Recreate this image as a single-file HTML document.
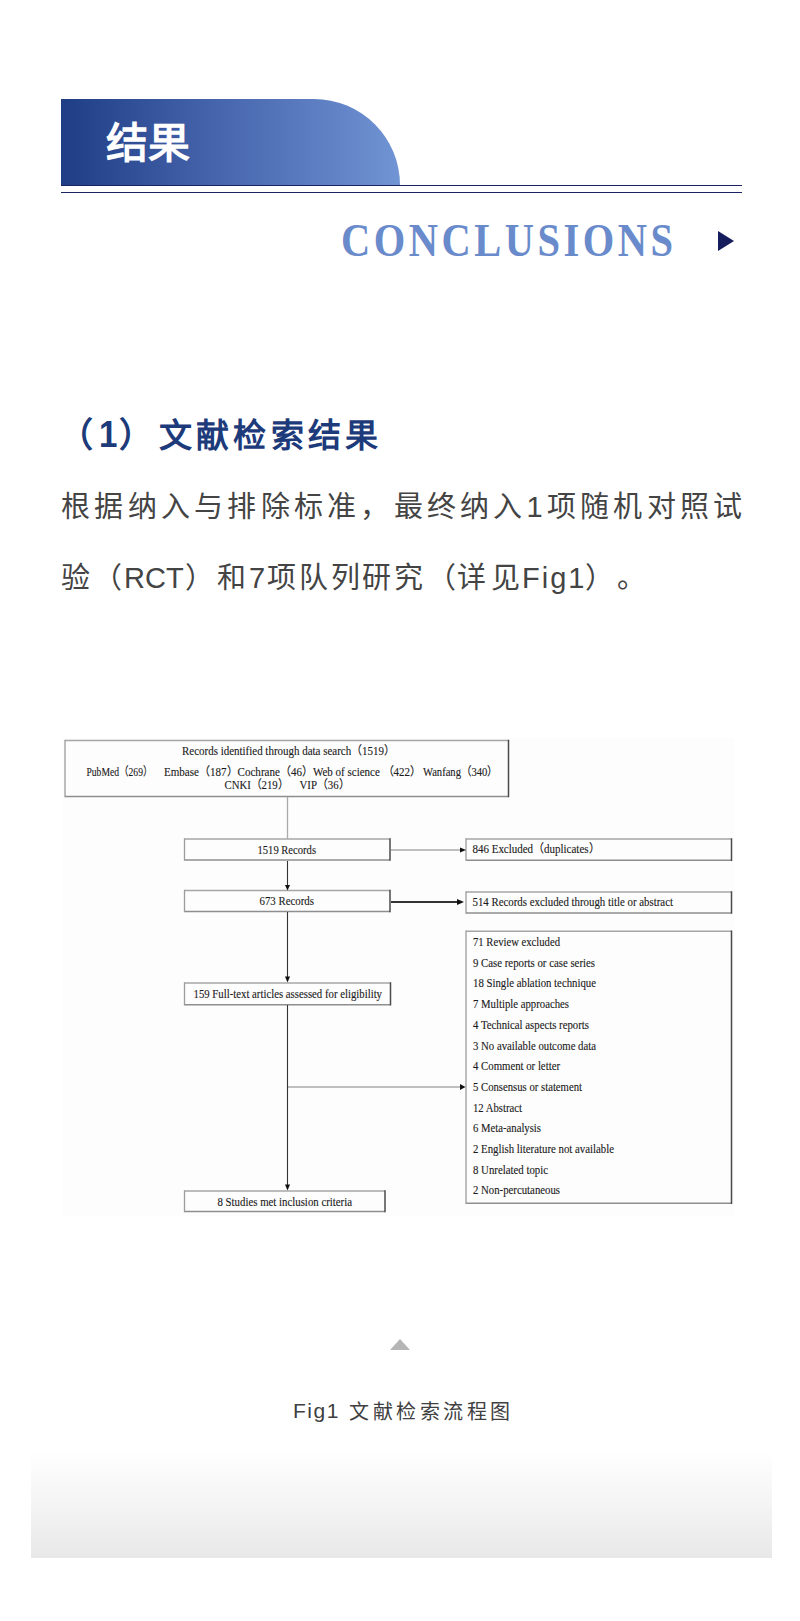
<!DOCTYPE html>
<html lang="zh-CN"><head><meta charset="utf-8">
<style>
html,body{margin:0;padding:0;background:#fff;}
body{width:800px;height:1621px;position:relative;overflow:hidden;font-family:"Liberation Sans",sans-serif;}
.abs{position:absolute;white-space:nowrap;}
#hbox{left:61px;top:99px;width:339px;height:86px;border-top-right-radius:86px;background:linear-gradient(90deg,#1e3d85 0%,#4b6ab1 52%,#7094d4 100%);}
#htitle{left:106px;top:116px;color:#fff;font-family:"Liberation Serif",serif;font-weight:bold;font-size:42px;line-height:56px;}
#line1{left:61px;top:185px;width:681px;height:1px;background:#1b2363;}
#line2{left:61px;top:192px;width:681px;height:1px;background:#1b2363;}
#concl{left:341px;top:214px;color:#6a8bcb;font-family:"Liberation Serif",serif;font-weight:bold;font-size:46px;line-height:54px;letter-spacing:4px;transform:scaleX(0.88);transform-origin:0 0;}
#tri{left:718px;top:231px;width:0;height:0;border-left:16px solid #161d5c;border-top:10px solid transparent;border-bottom:10px solid transparent;}
.h2{top:412px;color:#1d3a7a;font-weight:bold;font-size:36px;line-height:48px;}
#h2a{left:60px;}
#h2b{left:159px;letter-spacing:4.2px;font-size:33px;top:412px;}
.p{color:#444;font-size:29px;line-height:40px;}
#p1{left:61px;top:487px;letter-spacing:4.25px;}
.l2{top:558px;}
#fig{left:0;top:0;}
#fig text{font-family:"Liberation Serif",serif;font-size:12px;fill:#1a1a1a;stroke:#1a1a1a;stroke-width:0.12px;}
.cap{top:1396px;color:#404040;font-size:21px;line-height:30px;letter-spacing:1.5px;}
#uptri{left:390px;top:1339px;width:0;height:0;border-bottom:11px solid #b5b5b5;border-left:10px solid transparent;border-right:10px solid transparent;}
#grad{left:31px;top:1450px;width:741px;height:108px;background:linear-gradient(180deg,#fff 0%,#f4f4f4 50%,#e8e8e8 100%);}
</style></head>
<body>
<div id="hbox" class="abs"></div>
<div id="htitle" class="abs">结果</div>
<div id="line1" class="abs"></div>
<div id="line2" class="abs"></div>
<div id="concl" class="abs">CONCLUSIONS</div>
<div id="tri" class="abs"></div>
<span class="abs h2" style="left:59px;font-size:34px;top:411px">（</span><span class="abs h2" style="left:99px;font-size:36px;top:411px;transform:scaleX(0.92);transform-origin:0 0">1</span><span class="abs h2" style="left:119px;font-size:34px;top:411px">）</span>
<div id="h2b" class="abs h2">文献检索结果</div>
<div id="p1" class="abs p">根据纳入与排除标准，最终纳入1项随机对照试</div>
<span class="abs p l2" style="left:61px">验</span>
<span class="abs p l2" style="left:93px">（</span>
<span class="abs p l2" style="left:124px">RCT</span>
<span class="abs p l2" style="left:185px">）</span>
<span class="abs p l2" style="left:217px">和</span>
<span class="abs p l2" style="left:249px">7</span>
<span class="abs p l2" style="left:267px;letter-spacing:2.8px">项队列研究</span>
<span class="abs p l2" style="left:427px">（</span>
<span class="abs p l2" style="left:457px;letter-spacing:5px">详见</span>
<span class="abs p l2" style="left:522px;letter-spacing:2px">Fig1</span>
<span class="abs p l2" style="left:585px">）</span>
<span class="abs p l2" style="left:617px">。</span>
<svg id="fig" class="abs" width="800" height="1621" viewBox="0 0 800 1621">
<rect x="62" y="738" width="672" height="478" fill="#fdfdfd"/>
<g fill="none">
<line x1="65" y1="740.5" x2="508.5" y2="740.5" stroke="#a6a6a6" stroke-width="1.5"/>
<line x1="65" y1="796.5" x2="508.5" y2="796.5" stroke="#8e8e8e" stroke-width="1.5"/>
<line x1="65" y1="739.75" x2="65" y2="797.25" stroke="#9c9c9c" stroke-width="1.3"/>
<line x1="508.5" y1="739.75" x2="508.5" y2="797.25" stroke="#4a4a4a" stroke-width="1.5"/>
<line x1="184.5" y1="839" x2="390" y2="839" stroke="#a6a6a6" stroke-width="1.5"/>
<line x1="184.5" y1="860" x2="390" y2="860" stroke="#8e8e8e" stroke-width="1.5"/>
<line x1="184.5" y1="838.25" x2="184.5" y2="860.75" stroke="#9c9c9c" stroke-width="1.3"/>
<line x1="390" y1="838.25" x2="390" y2="860.75" stroke="#4a4a4a" stroke-width="1.5"/>
<line x1="466" y1="839" x2="731.5" y2="839" stroke="#a6a6a6" stroke-width="1.5"/>
<line x1="466" y1="860.3" x2="731.5" y2="860.3" stroke="#8e8e8e" stroke-width="1.5"/>
<line x1="466" y1="838.25" x2="466" y2="861.05" stroke="#9c9c9c" stroke-width="1.3"/>
<line x1="731.5" y1="838.25" x2="731.5" y2="861.05" stroke="#4a4a4a" stroke-width="1.5"/>
<line x1="184.5" y1="890.5" x2="390" y2="890.5" stroke="#a6a6a6" stroke-width="1.5"/>
<line x1="184.5" y1="911.5" x2="390" y2="911.5" stroke="#8e8e8e" stroke-width="1.5"/>
<line x1="184.5" y1="889.75" x2="184.5" y2="912.25" stroke="#9c9c9c" stroke-width="1.3"/>
<line x1="390" y1="889.75" x2="390" y2="912.25" stroke="#4a4a4a" stroke-width="1.5"/>
<line x1="466" y1="892" x2="731.5" y2="892" stroke="#a6a6a6" stroke-width="1.5"/>
<line x1="466" y1="913" x2="731.5" y2="913" stroke="#8e8e8e" stroke-width="1.5"/>
<line x1="466" y1="891.25" x2="466" y2="913.75" stroke="#9c9c9c" stroke-width="1.3"/>
<line x1="731.5" y1="891.25" x2="731.5" y2="913.75" stroke="#4a4a4a" stroke-width="1.5"/>
<line x1="466" y1="931.2" x2="731.5" y2="931.2" stroke="#a6a6a6" stroke-width="1.5"/>
<line x1="466" y1="1203.2" x2="731.5" y2="1203.2" stroke="#8e8e8e" stroke-width="1.5"/>
<line x1="466" y1="930.45" x2="466" y2="1203.95" stroke="#9c9c9c" stroke-width="1.3"/>
<line x1="731.5" y1="930.45" x2="731.5" y2="1203.95" stroke="#4a4a4a" stroke-width="1.5"/>
<line x1="184.5" y1="983" x2="390.5" y2="983" stroke="#a6a6a6" stroke-width="1.5"/>
<line x1="184.5" y1="1004.7" x2="390.5" y2="1004.7" stroke="#8e8e8e" stroke-width="1.5"/>
<line x1="184.5" y1="982.25" x2="184.5" y2="1005.45" stroke="#9c9c9c" stroke-width="1.3"/>
<line x1="390.5" y1="982.25" x2="390.5" y2="1005.45" stroke="#4a4a4a" stroke-width="1.5"/>
<line x1="184.5" y1="1191" x2="385" y2="1191" stroke="#a6a6a6" stroke-width="1.5"/>
<line x1="184.5" y1="1211.5" x2="385" y2="1211.5" stroke="#8e8e8e" stroke-width="1.5"/>
<line x1="184.5" y1="1190.25" x2="184.5" y2="1212.25" stroke="#9c9c9c" stroke-width="1.3"/>
<line x1="385" y1="1190.25" x2="385" y2="1212.25" stroke="#4a4a4a" stroke-width="1.5"/>
</g>
<g stroke="#aaa" stroke-width="1.3" fill="none">
<line x1="287.5" y1="797" x2="287.5" y2="839"/>
<line x1="391" y1="850" x2="460" y2="850"/>
<line x1="288" y1="1087" x2="460" y2="1087"/>
</g>
<g stroke="#333" stroke-width="1.1" fill="none">
<line x1="287.5" y1="861" x2="287.5" y2="886"/>
<line x1="287.5" y1="912" x2="287.5" y2="977"/>
<line x1="287.5" y1="1005" x2="287.5" y2="1185"/>
<line x1="391" y1="902" x2="458" y2="902" stroke-width="2"/>
</g>
<g fill="#111">
<path d="M285,885 L290,885 L287.5,890.5 Z"/>
<path d="M285,976.5 L290,976.5 L287.5,982.5 Z"/>
<path d="M285,1184.5 L290,1184.5 L287.5,1190.5 Z"/>
<path d="M460,847.5 L460,852.5 L466,850 Z"/>
<path d="M457,899 L457,905 L464,902 Z"/>
<path d="M460,1084 L460,1090 L465.5,1087 Z"/>
</g>
<text x="182" y="755" textLength="213" lengthAdjust="spacingAndGlyphs">Records identified through data search（1519）</text>
<text x="86.5" y="776" textLength="66" lengthAdjust="spacingAndGlyphs">PubMed（269）</text><text x="164" y="776" textLength="149" lengthAdjust="spacingAndGlyphs">Embase（187）Cochrane（46）</text><text x="313" y="776" textLength="108" lengthAdjust="spacingAndGlyphs">Web of science （422）</text><text x="423" y="776" textLength="75" lengthAdjust="spacingAndGlyphs">Wanfang（340）</text>
<text x="224.5" y="789" textLength="64" lengthAdjust="spacingAndGlyphs">CNKI（219）</text><text x="299.5" y="789" textLength="50" lengthAdjust="spacingAndGlyphs">VIP（36）</text>
<text x="257.5" y="853.8" textLength="58.5" lengthAdjust="spacingAndGlyphs">1519 Records</text>
<text x="472.5" y="853" textLength="127" lengthAdjust="spacingAndGlyphs">846 Excluded（duplicates）</text>
<text x="259.5" y="905" textLength="54.5" lengthAdjust="spacingAndGlyphs">673 Records</text>
<text x="472.5" y="906" textLength="200.5" lengthAdjust="spacingAndGlyphs">514 Records excluded through title or abstract</text>
<text x="193.5" y="997.5" textLength="188.5" lengthAdjust="spacingAndGlyphs">159 Full-text articles assessed for eligibility</text>
<text x="217.5" y="1205.6" textLength="134.5" lengthAdjust="spacingAndGlyphs">8 Studies met inclusion criteria</text>
<text x="473" y="946.0" textLength="87" lengthAdjust="spacingAndGlyphs">71 Review excluded</text>
<text x="473" y="966.7" textLength="122" lengthAdjust="spacingAndGlyphs">9 Case reports or case series</text>
<text x="473" y="987.4" textLength="123" lengthAdjust="spacingAndGlyphs">18 Single ablation technique</text>
<text x="473" y="1008.1" textLength="96" lengthAdjust="spacingAndGlyphs">7 Multiple approaches</text>
<text x="473" y="1028.8" textLength="116" lengthAdjust="spacingAndGlyphs">4 Technical aspects reports</text>
<text x="473" y="1049.5" textLength="123" lengthAdjust="spacingAndGlyphs">3 No available outcome data</text>
<text x="473" y="1070.2" textLength="87" lengthAdjust="spacingAndGlyphs">4 Comment or letter</text>
<text x="473" y="1090.9" textLength="109" lengthAdjust="spacingAndGlyphs">5 Consensus or statement</text>
<text x="473" y="1111.6" textLength="49" lengthAdjust="spacingAndGlyphs">12 Abstract</text>
<text x="473" y="1132.3" textLength="68" lengthAdjust="spacingAndGlyphs">6 Meta-analysis</text>
<text x="473" y="1153.0" textLength="141" lengthAdjust="spacingAndGlyphs">2 English literature not available</text>
<text x="473" y="1173.7" textLength="75" lengthAdjust="spacingAndGlyphs">8 Unrelated topic</text>
<text x="473" y="1194.4" textLength="87" lengthAdjust="spacingAndGlyphs">2 Non-percutaneous</text>
</svg>
<div id="uptri" class="abs"></div>
<span class="abs cap" style="left:293px">Fig1</span><span class="abs cap" style="left:349px;letter-spacing:3.5px;font-size:20px;top:1397px">文献检索流程图</span>
<div id="grad" class="abs"></div>
</body></html>
